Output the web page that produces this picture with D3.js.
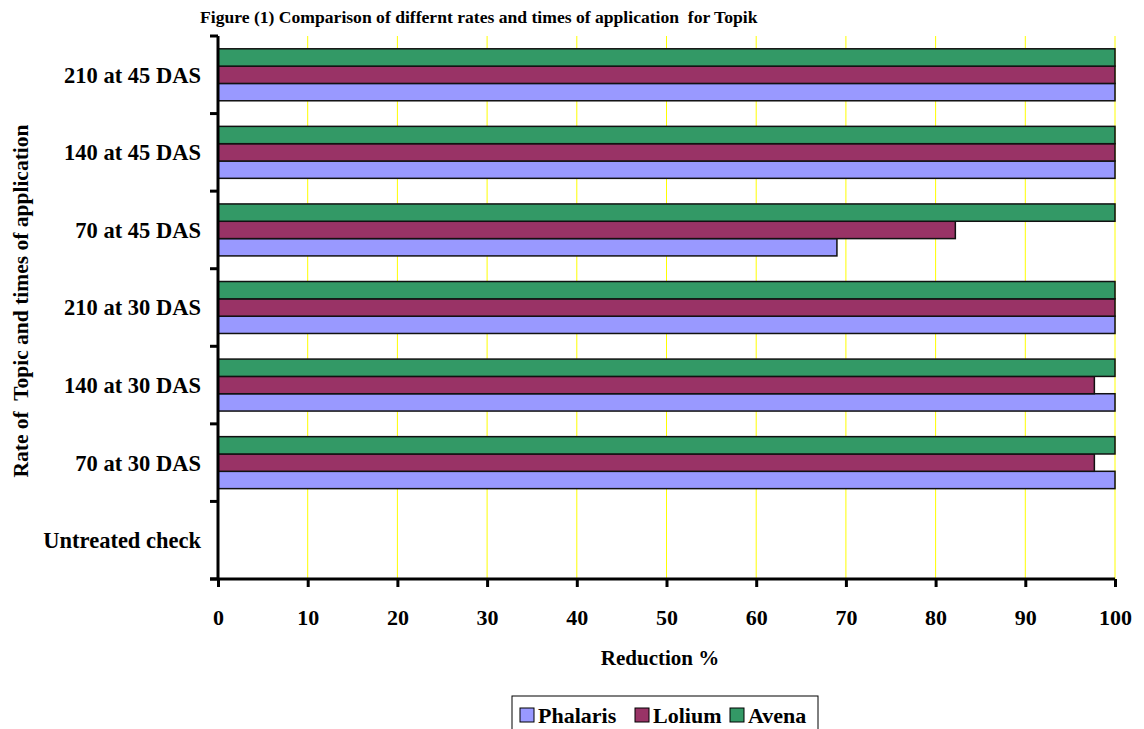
<!DOCTYPE html>
<html><head><meta charset="utf-8">
<script src="https://cdn.jsdelivr.net/npm/d3@7"></script>
<style>body{margin:0;background:#fff}svg{display:block;font-family:"Liberation Serif","Times New Roman",serif;font-weight:bold}</style>
</head><body><svg id="c" width="1144" height="729"></svg>
<script>
const categories = ["Untreated check","70 at 30 DAS","140 at 30 DAS","210 at 30 DAS","70 at 45 DAS","140 at 45 DAS","210 at 45 DAS"];
const seriesNames = ["Phalaris","Lolium","Avena"];
const colors = ["#9999FF","#993366","#339966"];
const phalaris = [0,100,100,100,69,100,100];
const lolium   = [0,97.7,97.7,100,82.2,100,100];
const avena    = [0,100,100,100,100,100,100];
const xTicks = [0,10,20,30,40,50,60,70,80,90,100];
const values = [phalaris, lolium, avena];

const svg = d3.select("#c");
const L = 218, R = 1115, T = 36, B = 579;
const x = d3.scaleLinear().domain([0,100]).range([L,R]);
const y = d3.scaleBand().domain(categories.slice().reverse()).range([T,B]).paddingInner(0.33).paddingOuter(0.165);
const inner = d3.scaleBand().domain(seriesNames.slice().reverse()).range([0,y.bandwidth()]);

// gridlines
svg.append("g").selectAll("line").data(xTicks.slice(1)).join("line")
  .attr("x1",d=>x(d)).attr("x2",d=>x(d)).attr("y1",T).attr("y2",B)
  .attr("stroke","#FFFF00").attr("stroke-width",1);

// bars
seriesNames.forEach((s,si)=>{
  svg.append("g").selectAll("rect").data(categories.map((c,i)=>({c,v:values[si][i]})).filter(d=>d.v>0)).join("rect")
    .attr("x",x(0)).attr("y",d=>y(d.c)+inner(s))
    .attr("width",d=>x(d.v)-x(0)).attr("height",inner.bandwidth())
    .attr("fill",colors[si]).attr("stroke","#111").attr("stroke-width",1.5);
});

// axes
const xAxis = d3.axisBottom(x).tickValues(xTicks).tickSize(8).tickPadding(22);
const gx = svg.append("g").attr("transform",`translate(0,${B})`).call(xAxis);
gx.attr("font-family",null).attr("font-size",null);
gx.select(".domain").attr("stroke","#000").attr("stroke-width",3).attr("d",`M${L-8},0H${R}`);
gx.selectAll(".tick line").attr("stroke","#000").attr("stroke-width",3);
gx.selectAll("text").attr("font-size",22).attr("font-weight","bold").attr("fill","#000");

const yEdges = d3.range(categories.length+1).map(i=>T+i*(B-T)/categories.length);
const gy = svg.append("g");
gy.append("line").attr("x1",L).attr("x2",L).attr("y1",T).attr("y2",B).attr("stroke","#000").attr("stroke-width",3);
gy.selectAll("line.t").data(yEdges).join("line").attr("class","t")
  .attr("x1",L-8).attr("x2",L).attr("y1",d=>d).attr("y2",d=>d).attr("stroke","#000").attr("stroke-width",3);
gy.selectAll("text").data(categories).join("text")
  .attr("x",201).attr("y",d=>y(d)+y.bandwidth()/2).attr("dy","0.35em")
  .attr("text-anchor","end").attr("font-size",22.5).text(d=>d);

// titles
svg.append("text").attr("x",200).attr("y",23).attr("font-size",17.6).attr("xml:space","preserve").text("Figure (1) Comparison of differnt rates and times of application  for Topik");
svg.append("text").attr("x",660).attr("y",665).attr("text-anchor","middle").attr("font-size",21).text("Reduction %");
svg.append("text").attr("transform","translate(28,301) rotate(-90)").attr("text-anchor","middle").attr("font-size",21.5).attr("xml:space","preserve").text("Rate of  Topic and times of application");

// legend
const lg = svg.append("g");
lg.append("rect").attr("x",512).attr("y",696).attr("width",306).attr("height",40).attr("fill","#fff").attr("stroke","#000").attr("stroke-width",1);
const lx = [520,635,730];
seriesNames.forEach((s,i)=>{
  lg.append("rect").attr("x",lx[i]).attr("y",708).attr("width",14).attr("height",14).attr("fill",colors[i]).attr("stroke","#000").attr("stroke-width",1);
  lg.append("text").attr("x",lx[i]+18).attr("y",723).attr("font-size",22).text(s);
});
</script></body></html>
